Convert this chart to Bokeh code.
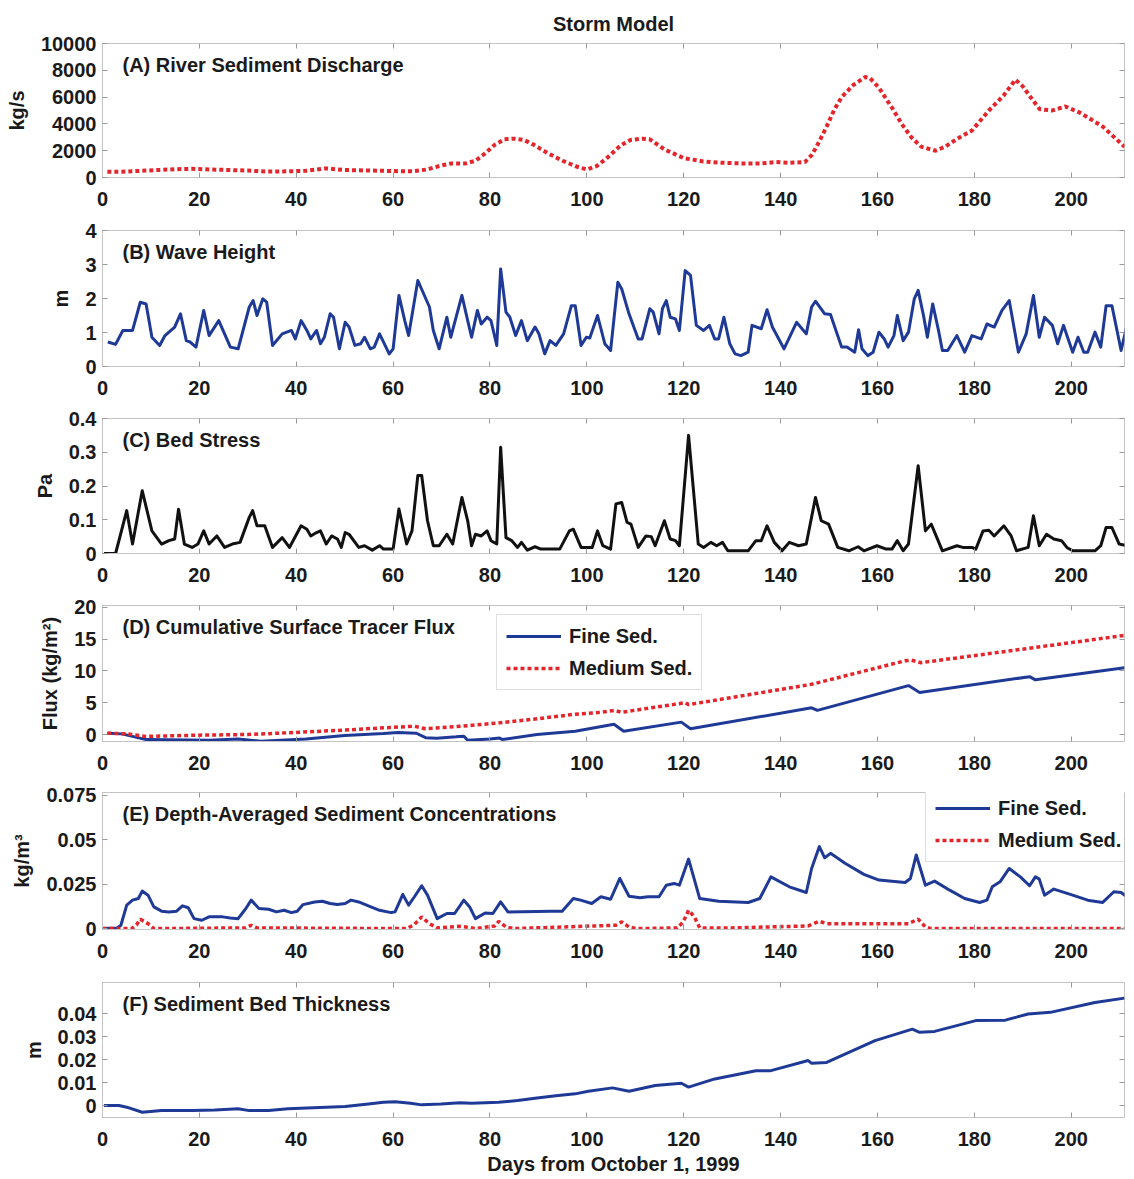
from bokeh.plotting import figure
from bokeh.layouts import column
from bokeh.models import (Range1d, FixedTicker, LinearAxis, Label, Legend,
                          LegendItem, CustomJSTickFormatter)
from bokeh.embed import file_html
from bokeh.resources import INLINE

# ---------------- data (days from October 1, 1999) ----------------
x_ticks = [0, 20, 40, 60, 80, 100, 120, 140, 160, 180, 200]

# (A) river sediment discharge, kg/s
discharge_day = [1, 4, 8, 11.5, 15, 18.5, 22, 26, 30, 34, 38, 42, 46, 50, 55, 60, 64,
                 67, 70, 72, 75, 77, 79, 81, 83, 85, 87, 89, 92, 95, 98, 100, 102, 104,
                 107, 109, 111.5, 113, 116, 120, 124, 128, 132, 136, 139, 142, 145,
                 146.5, 148, 149.5, 151, 152.6, 155, 157.5, 158.5, 160.3, 163, 165, 167,
                 169, 172, 174, 176.5, 179.5, 183, 186, 188.5, 190, 192, 193.5, 196,
                 198.8, 202, 206.5, 211]
discharge = [420, 430, 500, 560, 620, 650, 600, 560, 520, 440, 460, 500, 680, 560, 520,
             480, 460, 600, 900, 1050, 1050, 1250, 1800, 2450, 2850, 2900, 2800, 2450,
             1800, 1250, 800, 600, 850, 1400, 2400, 2800, 2900, 2850, 2100, 1450, 1200,
             1100, 1050, 1050, 1150, 1100, 1150, 1700, 2700, 3800, 5000, 6000, 6900,
             7500, 7400, 6700, 5200, 4000, 3000, 2300, 2000, 2300, 2900, 3500, 5000,
             6100, 7300, 6800, 5800, 5100, 5000, 5300, 4800, 3800, 2300]

# (B) wave height, m
wave_day = [1.1, 2.7, 4.2, 6.2, 7.8, 9.0, 10.2, 11.8, 12.9, 14.9, 16.1, 17.3, 18.1, 19.3,
            20.9, 22.0, 24.0, 26.4, 28.0, 30.3, 31.1, 31.9, 33.1, 33.9, 35.1, 37.1, 39.0,
            39.8, 41.0, 42.2, 43.0, 44.2, 45.0, 45.8, 47.0, 47.7, 48.9, 50.1, 50.9, 52.1,
            53.3, 54.1, 55.3, 56.1, 57.2, 59.2, 60.0, 61.2, 62.4, 63.2, 65.1, 66.3, 67.5,
            68.3, 69.5, 71.1, 71.9, 74.2, 75.4, 76.2, 77.4, 78.2, 79.4, 80.2, 81.4, 82.2,
            83.3, 84.1, 85.3, 86.5, 87.7, 89.3, 90.1, 91.3, 92.4, 93.6, 95.2, 96.8, 97.6,
            98.8, 99.9, 100.6, 102.2, 103.7, 104.9, 106.4, 107.2, 108.7, 110.6, 111.4,
            113.0, 113.7, 114.9, 115.6, 116.4, 117.2, 118.3, 119.1, 120.3, 121.4, 122.6,
            124.1, 125.3, 126.4, 127.2, 128.3, 129.5, 130.6, 131.8, 133.3, 134.1, 136.0,
            137.2, 138.3, 140.7, 143.3, 145.3, 146.4, 147.2, 149.1, 150.3, 152.6, 153.7,
            155.3, 156.1, 156.8, 158.0, 159.1, 160.3, 161.4, 162.2, 163.4, 164.1, 165.3,
            166.4, 167.6, 168.4, 169.5, 170.3, 171.4, 172.6, 173.4, 174.5, 176.4, 178.0,
            179.5, 181.4, 182.6, 184.1, 185.7, 187.2, 189.1, 190.7, 192.2, 193.4, 194.5,
            196.1, 197.2, 198.4, 200.3, 201.4, 202.6, 203.4, 204.9, 206.1, 207.2, 208.4,
            210.3, 211.5]
wave = [0.72, 0.65, 1.06, 1.06, 1.89, 1.84, 0.86, 0.62, 0.91, 1.16, 1.55, 0.76, 0.72, 0.57,
        1.65, 0.91, 1.35, 0.57, 0.52, 1.75, 1.94, 1.50, 1.99, 1.89, 0.62, 0.96, 1.06, 0.81,
        1.35, 1.06, 0.81, 1.06, 0.67, 0.86, 1.55, 1.45, 0.52, 1.30, 1.16, 0.62, 0.67, 0.86,
        0.52, 0.57, 0.96, 0.37, 0.52, 2.09, 1.35, 0.91, 2.53, 2.14, 1.75, 1.06, 0.52, 1.45,
        0.86, 2.09, 1.35, 0.86, 1.65, 1.25, 1.45, 1.35, 0.62, 2.87, 1.60, 1.45, 0.91, 1.35,
        0.76, 1.16, 0.96, 0.37, 0.76, 0.62, 0.96, 1.79, 1.79, 0.62, 0.86, 0.84, 1.50, 0.67,
        0.47, 2.48, 2.28, 1.55, 0.81, 0.81, 1.70, 1.60, 0.96, 1.70, 1.94, 1.45, 1.40, 1.06,
        2.82, 2.68, 1.21, 1.06, 1.21, 0.81, 0.81, 1.45, 0.67, 0.37, 0.32, 0.42, 1.21, 1.11,
        1.67, 1.16, 0.52, 1.30, 0.96, 1.75, 1.92, 1.55, 1.53, 0.57, 0.57, 0.42, 1.08, 0.52,
        0.32, 0.42, 1.01, 0.81, 0.57, 0.91, 1.50, 0.76, 1.01, 1.99, 2.24, 1.50, 0.86, 1.84,
        1.06, 0.47, 0.47, 0.91, 0.42, 0.91, 0.81, 1.25, 1.16, 1.65, 1.94, 0.42, 0.96, 2.09,
        0.86, 1.45, 1.21, 0.67, 1.21, 0.42, 0.86, 0.42, 0.42, 1.01, 0.57, 1.79, 1.79, 0.47,
        1.21]

# (C) bed stress, Pa
stress_day = [0.3, 2.7, 5.0, 6.2, 8.2, 10.2, 12.2, 13.7, 14.9, 15.7, 16.9, 18.5, 19.7, 20.9,
              22.0, 23.6, 25.2, 26.8, 28.4, 30.3, 31.0, 31.9, 33.5, 35.1, 37.1, 38.6, 41.0,
              42.2, 43.0, 44.2, 45.0, 46.2, 47.3, 48.5, 49.3, 50.1, 50.9, 52.9, 54.1, 55.7,
              57.2, 58.0, 60.0, 61.2, 62.8, 63.9, 65.1, 65.9, 67.1, 68.3, 69.5, 71.1, 72.3,
              74.2, 75.4, 76.2, 77.0, 78.2, 79.4, 80.2, 81.4, 82.2, 83.3, 84.5, 85.7, 86.5,
              87.7, 89.3, 90.5, 94.4, 96.4, 97.2, 98.8, 101.1, 102.2, 103.3, 104.9, 106.0,
              107.2, 108.3, 109.1, 110.6, 112.2, 113.3, 114.1, 116.0, 117.2, 118.3, 119.1,
              121.0, 123.0, 124.1, 125.6, 126.8, 128.0, 129.1, 133.3, 134.9, 136.0, 137.2,
              138.7, 140.3, 141.8, 143.7, 145.3, 147.2, 148.4, 149.9, 151.8, 154.1, 156.0,
              157.2, 159.9, 161.8, 163.0, 164.1, 165.3, 166.4, 168.4, 169.9, 171.1, 173.4,
              176.4, 177.6, 179.5, 180.3, 181.8, 183.0, 184.1, 186.1, 187.6, 188.7, 191.1,
              192.2, 193.4, 194.9, 196.4, 198.0, 199.1, 200.3, 204.9, 206.1, 207.2, 208.4,
              209.9, 211.5]
stress = [0.0, 0.0, 0.127, 0.028, 0.186, 0.067, 0.028, 0.038, 0.043, 0.131, 0.028, 0.018,
          0.028, 0.067, 0.028, 0.052, 0.018, 0.028, 0.033, 0.107, 0.127, 0.082, 0.082, 0.018,
          0.047, 0.018, 0.082, 0.072, 0.052, 0.062, 0.067, 0.028, 0.052, 0.043, 0.018, 0.062,
          0.057, 0.018, 0.023, 0.010, 0.023, 0.013, 0.013, 0.132, 0.028, 0.067, 0.231, 0.231,
          0.097, 0.023, 0.023, 0.057, 0.028, 0.166, 0.097, 0.023, 0.057, 0.052, 0.067, 0.038,
          0.028, 0.315, 0.047, 0.038, 0.018, 0.033, 0.010, 0.020, 0.013, 0.013, 0.067, 0.072,
          0.018, 0.018, 0.067, 0.023, 0.013, 0.147, 0.151, 0.092, 0.087, 0.018, 0.052, 0.050,
          0.023, 0.097, 0.043, 0.038, 0.023, 0.350, 0.028, 0.018, 0.033, 0.023, 0.033, 0.008,
          0.008, 0.038, 0.038, 0.082, 0.033, 0.008, 0.033, 0.023, 0.028, 0.166, 0.097, 0.087,
          0.018, 0.008, 0.020, 0.008, 0.023, 0.013, 0.013, 0.038, 0.008, 0.028, 0.260, 0.067,
          0.087, 0.008, 0.023, 0.018, 0.018, 0.013, 0.067, 0.069, 0.052, 0.082, 0.052, 0.008,
          0.018, 0.112, 0.023, 0.057, 0.043, 0.038, 0.018, 0.008, 0.008, 0.023, 0.077, 0.077,
          0.028, 0.023]

# (D) cumulative surface tracer flux, kg/m^2
flux_fine_day = [1, 4, 9, 22, 28, 32.7, 42, 50, 58, 61, 64.8, 66.7, 69, 73, 74.6, 75.4, 80,
                 82, 82.5, 89.7, 97.6, 105.6, 107.6, 119.5, 121.4, 146.4, 147.6, 166.4,
                 168.7, 191.4, 192.6, 211]
flux_fine = [0.2, 0.1, -0.8, -0.9, -0.7, -1.05, -0.7, -0.15, 0.16, 0.3, 0.2, -0.5, -0.6,
             -0.37, -0.26, -0.9, -0.7, -0.55, -0.8, 0.0, 0.5, 1.6, 0.5, 1.95, 0.9, 4.2, 3.8,
             7.7, 6.6, 9.1, 8.6, 10.5]
flux_med_day = [1, 5, 9, 20, 30, 38, 50, 58, 64.4, 66.7, 74, 82, 90, 97.6, 103, 105.6, 107.2,
                120.3, 121, 146.4, 165.7, 167, 169, 192.6, 211]
flux_med = [0.2, 0.1, -0.3, -0.1, 0.0, 0.26, 0.7, 1.05, 1.3, 0.9, 1.3, 1.84, 2.5, 3.2, 3.5,
            3.8, 3.5, 5.0, 4.7, 7.9, 11.6, 11.7, 11.3, 13.7, 15.6]

# (E) depth-averaged sediment concentrations, kg/m^3
conc_fine_day = [0, 3.0, 3.8, 5.0, 6.2, 7.4, 8.2, 9.4, 10.6, 12.2, 13.7, 15.3, 16.5, 17.7,
                 18.9, 20.5, 22, 24.8, 26.4, 28, 29.6, 30.7, 32.3, 34.3, 35.9, 37.5, 39, 40.2,
                 41.4, 43.8, 45.4, 47, 48.5, 50.1, 51.3, 52.9, 54.9, 57.2, 59.6, 60.4, 62,
                 63.2, 64.4, 65.9, 67.1, 69.1, 71.1, 72.7, 74.6, 75.8, 77, 79, 80.6, 82.2,
                 83.7, 92.6, 94.9, 97.2, 98.7, 101.0, 102.9, 104.9, 106.8, 108.7, 111.0,
                 112.6, 114.9, 116.4, 118.0, 119.1, 121.0, 123.3, 127.2, 133.3, 135.7, 138.0,
                 141.8, 145.3, 146.4, 148.0, 149.1, 150.3, 153.3, 157.2, 160.3, 165.7, 166.8,
                 168.0, 169.9, 171.8, 174.9, 178.0, 181.1, 182.6, 183.7, 185.3, 187.2, 189.5,
                 191.4, 192.6, 193.4, 194.5, 196.4, 200.3, 203.4, 206.5, 208.8, 210.3, 211.5]
conc_fine = [0.0, 0.0004, 0.0019, 0.0132, 0.016, 0.0169, 0.0211, 0.0188, 0.0122, 0.0098,
             0.0094, 0.0098, 0.0128, 0.0117, 0.0056, 0.0047, 0.0066, 0.0066, 0.006, 0.0056,
             0.0113, 0.016, 0.0113, 0.0109, 0.0094, 0.0103, 0.009, 0.0098, 0.0135, 0.015,
             0.0154, 0.0141, 0.0135, 0.0141, 0.016, 0.015, 0.0128, 0.0103, 0.009, 0.0094,
             0.0192, 0.0132, 0.0179, 0.0241, 0.0188, 0.0056, 0.0085, 0.0085, 0.016, 0.0122,
             0.0056, 0.0088, 0.0085, 0.015, 0.0094, 0.0098, 0.0098, 0.0169, 0.016, 0.0141,
             0.0179, 0.0165, 0.0282, 0.0182, 0.0173, 0.0179, 0.0179, 0.0244, 0.0254, 0.0244,
             0.0391, 0.0169, 0.0154, 0.0147, 0.0169, 0.0291, 0.0235, 0.0203, 0.0338, 0.0461,
             0.0398, 0.0423, 0.0367, 0.0305, 0.0273, 0.0259, 0.0282, 0.0414, 0.0244, 0.0267,
             0.0216, 0.0169, 0.0147, 0.016, 0.0235, 0.0263, 0.0338, 0.0291, 0.0241, 0.0291,
             0.0278, 0.0188, 0.0222, 0.0188, 0.016, 0.0147, 0.0207, 0.0203, 0.0179]
conc_med_day = [0, 6, 7, 7.8, 9.4, 10.6, 29.6, 30.7, 31.9, 62.8, 64.4, 65.9, 67.5, 69.1,
                73.8, 75, 77, 81, 81.8, 83.3, 84.9, 106, 107.2, 108.7, 110.3, 118.7, 119.9,
                121, 122.2, 123.3, 130, 145.7, 148, 149.5, 166.4, 168.4, 169.9, 171, 211]
conc_med = [0.0, 0.0, 0.002, 0.0053, 0.0028, 0.0, 0.0004, 0.0019, 0.0004, 0.0, 0.0023,
            0.0066, 0.0028, 0.0004, 0.0013, 0.0009, 0.0, 0.0015, 0.0041, 0.0009, 0.0, 0.0019,
            0.0038, 0.0009, 0.0, 0.0004, 0.0038, 0.0103, 0.0066, 0.0004, 0.0004, 0.0015,
            0.0041, 0.0028, 0.0028, 0.0053, 0.0009, 0.0, 0.0]

# (F) sediment bed thickness, m
bed_day = [0.3, 3.4, 5, 8.2, 12.2, 18.5, 23.2, 28, 30.3, 34.3, 38.3, 46.2, 50.1, 54.9, 58,
           60.4, 63.6, 65.9, 69.9, 73.8, 76.2, 81.8, 85.7, 89.7, 93.6, 97.6, 100.3, 105.3,
           108.7, 114.1, 119.5, 121, 126.4, 134.9, 138, 145.7, 146.4, 149.5, 154.1, 159.5,
           167.2, 168.7, 171.8, 180.3, 186.4, 191.1, 195.7, 204.9, 211]
bed = [0.0, 0.0, -0.0007, -0.0029, -0.0022, -0.0022, -0.0019, -0.0014, -0.0022, -0.0022,
       -0.0014, -0.0007, -0.0004, 0.0007, 0.0014, 0.0017, 0.001, 0.0003, 0.0007, 0.0012,
       0.001, 0.0014, 0.0022, 0.0033, 0.0043, 0.0051, 0.0062, 0.0077, 0.0062, 0.0087,
       0.0097, 0.008, 0.0116, 0.0152, 0.0152, 0.0196, 0.0184, 0.0188, 0.0232, 0.0283,
       0.0333, 0.0319, 0.0323, 0.037, 0.0372, 0.0399, 0.0406, 0.0449, 0.0468]

# ---------------- styling ----------------
FONT = "Liberation Sans"
BLUE = "#1f3a96"
RED = "#e4262c"
BLACK = "#111111"
TEXT = "#1a1a1a"
FRAME = "#c4c4c4"
TICK = "#9a9a9a"
FRAME_W = 1022
LEFT, RIGHT = 102, 10

tick_fmt = CustomJSTickFormatter(code="return tick.toString();")


def bold_text(obj, prefix, size="20px"):
    setattr(obj, prefix + "_font", FONT)
    setattr(obj, prefix + "_font_style", "bold")
    setattr(obj, prefix + "_font_size", size)
    setattr(obj, prefix + "_color", TEXT)


def panel(top, frame_h, bottom, y_lo, y_hi, y_ticks, y_label, tag, title=None):
    p = figure(width=LEFT + FRAME_W + RIGHT, height=top + frame_h + bottom,
               x_range=Range1d(0, 211), y_range=Range1d(y_lo, y_hi),
               output_backend="svg", toolbar_location=None,
               min_border_left=LEFT, min_border_right=RIGHT,
               min_border_top=top, min_border_bottom=bottom)
    p.xgrid.grid_line_color = None
    p.ygrid.grid_line_color = None
    p.outline_line_color = FRAME
    p.background_fill_color = "white"
    p.border_fill_color = "white"

    if title:
        p.title.text = title
        p.title.align = "center"
        p.title.offset = -8
        p.title.standoff = 17
        bold_text(p.title, "text")

    xax, yax = p.below[0], p.left[0]
    for ax, ticks in ((xax, x_ticks), (yax, y_ticks)):
        ax.ticker = FixedTicker(ticks=ticks)
        ax.formatter = tick_fmt
        ax.axis_line_color = FRAME
        ax.major_tick_line_color = TICK
        ax.major_tick_in = 5
        ax.major_tick_out = 0
        ax.minor_tick_line_color = None
        bold_text(ax, "major_label_text")
    xax.major_label_standoff = 14
    yax.major_label_standoff = 6

    yax.axis_label = y_label
    bold_text(yax, "axis_label_text")
    yax.axis_label_standoff = 10

    # tick marks along the top and right edges of the box (no labels there)
    for side, ticks in (("above", x_ticks), ("right", y_ticks)):
        ax = LinearAxis(ticker=FixedTicker(ticks=ticks),
                        major_label_text_font_size="0px", major_label_text_color=None,
                        major_label_standoff=0,
                        major_tick_in=5, major_tick_out=0, major_tick_line_color=TICK,
                        minor_tick_line_color=None, axis_line_color=None)
        p.add_layout(ax, side)

    p.add_layout(Label(x=20, y=frame_h - 21, x_units="screen", y_units="screen",
                       text=tag, text_baseline="middle", text_font=FONT,
                       text_font_style="bold", text_font_size="20px",
                       text_color=TEXT))
    return p


def sed_legend(p, fine_r, med_r, loc):
    leg = Legend(items=[LegendItem(label="Fine Sed.", renderers=[fine_r]),
                        LegendItem(label="Medium Sed.", renderers=[med_r])],
                 location=loc, orientation="vertical",
                 glyph_width=55, glyph_height=22, label_height=24, label_standoff=8,
                 spacing=8, padding=9, margin=0,
                 border_line_color="#bdbdbd", border_line_width=1,
                 background_fill_color="white", background_fill_alpha=1.0)
    bold_text(leg, "label_text")
    p.add_layout(leg)


# (A)
pa = panel(43, 134, 36, 0, 10000, [0, 2000, 4000, 6000, 8000, 10000], "kg/s",
           "(A) River Sediment Discharge", title="Storm Model")
pa.line(discharge_day, discharge, line_color=RED, line_width=4, line_dash="4 3")

# (B)
pb = panel(17, 136, 36, 0, 4, [0, 1, 2, 3, 4], "m", "(B) Wave Height")
pb.line(wave_day, wave, line_color=BLUE, line_width=3, line_join="round")

# (C)
pc = panel(16, 135, 36, 0, 0.4, [0, 0.1, 0.2, 0.3, 0.4], "Pa", "(C) Bed Stress")
pc.line(stress_day, stress, line_color=BLACK, line_width=3, line_join="round")

# (D)
pd_ = panel(16, 136, 36, -1.1, 20.3, [0, 5, 10, 15, 20], "Flux (kg/m²)",
            "(D) Cumulative Surface Tracer Flux")
rf = pd_.line(flux_fine_day, flux_fine, line_color=BLUE, line_width=3)
rm = pd_.line(flux_med_day, flux_med, line_color=RED, line_width=3.5, line_dash="4 3")
sed_legend(pd_, rf, rm, (394, 51))

# (E)
pe = panel(15, 137, 36, -0.0005, 0.0765, [0, 0.025, 0.05, 0.075], "kg/m³",
           "(E) Depth-Averaged Sediment Concentrations")
rf = pe.line(conc_fine_day, conc_fine, line_color=BLUE, line_width=3, line_join="round")
rm = pe.line(conc_med_day, conc_med, line_color=RED, line_width=3.5, line_dash="4 3")
sed_legend(pe, rf, rm, (823, 67))

# (F)
pf = panel(17, 135, 62, -0.0052, 0.0536, [0, 0.01, 0.02, 0.03, 0.04], "m",
           "(F) Sediment Bed Thickness")
pf.line(bed_day, bed, line_color=BLUE, line_width=3)
days_axis = pf.below[0]
days_axis.axis_label = "Days from October 1, 1999"
bold_text(days_axis, "axis_label_text")
days_axis.axis_label_standoff = 4

layout = column(pa, pb, pc, pd_, pe, pf, spacing=0)
open("out.html", "w").write(file_html(layout, INLINE, title="Storm Model"))
